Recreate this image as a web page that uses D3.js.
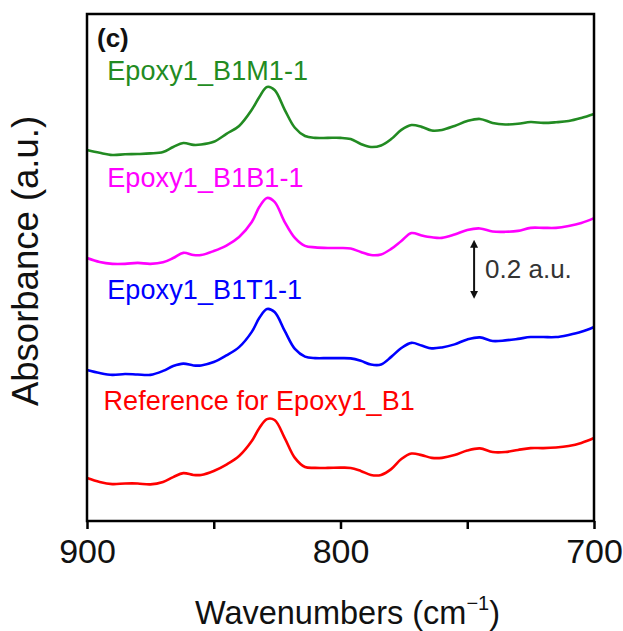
<!DOCTYPE html>
<html>
<head>
<meta charset="utf-8">
<script src="https://cdn.jsdelivr.net/npm/d3@7"></script>
<style>
body { margin: 0; background: #fff; }
text { font-family: "Liberation Sans", Arial, sans-serif; }
</style>
</head>
<body>
<script>
var width = 623, height = 631;

// wavenumbers (cm-1), shared by every spectrum
var wavenumbers = [900, 895, 890, 885, 880, 875, 870, 866, 862, 858,
  855, 850, 845, 840, 835, 832, 829, 826, 822, 818,
  814, 810, 805, 800, 796, 792, 788, 784, 780, 776,
  772, 768, 764, 760, 755, 750, 745, 740, 735, 730,
  725, 720, 715, 710, 705, 700];

// absorbance (a.u., stacked with offsets)
var b1m1 = [1.216, 1.207, 1.200, 1.202, 1.203, 1.205, 1.210, 1.226, 1.239, 1.233,
  1.234, 1.243, 1.269, 1.295, 1.348, 1.390, 1.423, 1.413, 1.348, 1.289,
  1.262, 1.256, 1.256, 1.256, 1.252, 1.236, 1.226, 1.231, 1.252, 1.282,
  1.298, 1.292, 1.280, 1.282, 1.295, 1.311, 1.318, 1.305, 1.300, 1.302,
  1.308, 1.305, 1.307, 1.311, 1.321, 1.334];
var b1b1 = [0.862, 0.849, 0.843, 0.843, 0.846, 0.843, 0.848, 0.862, 0.879, 0.872,
  0.872, 0.885, 0.903, 0.931, 0.980, 1.030, 1.059, 1.046, 0.980, 0.928,
  0.902, 0.897, 0.895, 0.895, 0.893, 0.882, 0.872, 0.874, 0.892, 0.918,
  0.944, 0.936, 0.930, 0.928, 0.939, 0.954, 0.959, 0.949, 0.948, 0.951,
  0.961, 0.961, 0.961, 0.967, 0.977, 0.993];
var b1t1 = [0.495, 0.485, 0.479, 0.482, 0.480, 0.479, 0.492, 0.508, 0.516, 0.510,
  0.510, 0.521, 0.543, 0.570, 0.620, 0.666, 0.695, 0.685, 0.623, 0.564,
  0.539, 0.534, 0.534, 0.534, 0.533, 0.525, 0.513, 0.513, 0.538, 0.567,
  0.584, 0.575, 0.566, 0.569, 0.579, 0.595, 0.602, 0.590, 0.592, 0.597,
  0.603, 0.603, 0.603, 0.610, 0.620, 0.636];
var reference = [0.141, 0.128, 0.121, 0.123, 0.123, 0.120, 0.128, 0.144, 0.157, 0.151,
  0.151, 0.164, 0.185, 0.213, 0.262, 0.305, 0.334, 0.331, 0.272, 0.207,
  0.177, 0.174, 0.174, 0.175, 0.174, 0.164, 0.151, 0.151, 0.170, 0.203,
  0.221, 0.216, 0.207, 0.207, 0.216, 0.231, 0.238, 0.226, 0.226, 0.233,
  0.239, 0.239, 0.241, 0.246, 0.256, 0.272];

var seriesNames = ["Epoxy1_B1M1-1", "Epoxy1_B1B1-1", "Epoxy1_B1T1-1", "Reference for Epoxy1_B1"];
var seriesValues = [b1m1, b1b1, b1t1, reference];
var colors = ["#228b22", "#ff00ff", "#0000ff", "#ff0000"];
// label anchor: wavenumber and absorbance of text baseline start
var labelPos = [[892, 1.446], [892, 1.095], [892, 0.728], [893.5, 0.365]];

var xTicks = [900, 850, 800, 750, 700];
var xLabels = [900, 800, 700];

var scaleBar = { wn: 747.3, from: 0.725, to: 0.925, text: "0.2 a.u." };

var margin = {left: 87, top: 14, right: 29, bottom: 110};
var w = width - margin.left - margin.right,
    h = height - margin.top - margin.bottom;

var svg = d3.select("body").append("svg")
    .attr("width", width)
    .attr("height", height);

var x = d3.scaleLinear().domain([900, 700]).range([0, w]);
var y = d3.scaleLinear().domain([0, 1.662]).range([h, 0]);

var g = svg.append("g")
    .attr("transform", "translate(" + margin.left + "," + margin.top + ")");

var line = d3.line()
    .x(function(d) { return x(d[0]); })
    .y(function(d) { return y(d[1]); })
    .curve(d3.curveCatmullRom.alpha(0.5));

seriesValues.forEach(function(vals, i) {
  g.append("path")
    .datum(wavenumbers.map(function(wn, j) { return [wn, vals[j]]; }))
    .attr("fill", "none")
    .attr("stroke", colors[i])
    .attr("stroke-width", 2.6)
    .attr("stroke-linejoin", "round")
    .attr("d", line);

  g.append("text")
    .attr("x", x(labelPos[i][0]))
    .attr("y", y(labelPos[i][1]))
    .attr("fill", colors[i])
    .attr("font-size", 27)
    .attr("letter-spacing", 0.1)
    .text(seriesNames[i]);
});

// frame
g.append("rect")
  .attr("width", w)
  .attr("height", h)
  .attr("fill", "none")
  .attr("stroke", "#000")
  .attr("stroke-width", 2.5);

var xAxis = g.append("g")
  .attr("transform", "translate(0," + h + ")")
  .call(d3.axisBottom(x).tickValues(xTicks).tickSize(8).tickPadding(10)
    .tickFormat(function(d) { return xLabels.indexOf(d) >= 0 ? d : ""; }));
xAxis.select(".domain").remove();
xAxis.selectAll(".tick line").attr("stroke-width", 2.5);
xAxis.selectAll(".tick text")
  .attr("font-size", 34)
  .attr("font-family", "Liberation Sans, Arial, sans-serif")
  .attr("fill", "#111");

// panel tag
g.append("text")
  .attr("x", 10)
  .attr("y", 33)
  .attr("font-size", 26)
  .attr("font-weight", "bold")
  .attr("fill", "#111")
  .text("(c)");

// scale bar
var defs = svg.append("defs");
defs.append("marker")
  .attr("id", "ah")
  .attr("viewBox", "0 0 10 10")
  .attr("refX", 5).attr("refY", 5)
  .attr("markerWidth", 4).attr("markerHeight", 5)
  .attr("orient", "auto-start-reverse")
  .append("path")
  .attr("d", "M0,0L10,5L0,10Z")
  .attr("fill", "#111");

g.append("line")
  .attr("x1", x(scaleBar.wn)).attr("x2", x(scaleBar.wn))
  .attr("y1", y(scaleBar.from) - 5).attr("y2", y(scaleBar.to) + 5)
  .attr("stroke", "#111")
  .attr("stroke-width", 2)
  .attr("marker-start", "url(#ah)")
  .attr("marker-end", "url(#ah)");

g.append("text")
  .attr("x", x(scaleBar.wn) + 11)
  .attr("y", y((scaleBar.from + scaleBar.to) / 2) + 9)
  .attr("font-size", 26)
  .attr("fill", "#333")
  .text(scaleBar.text);

// axis titles
var xt = svg.append("text")
  .attr("x", margin.left + w / 2 + 7)
  .attr("y", 624)
  .attr("text-anchor", "middle")
  .attr("font-size", 32.5)
  .attr("fill", "#111");
xt.append("tspan").text("Wavenumbers (cm");
xt.append("tspan").attr("font-size", 20).attr("dy", -14).text("\u22121");
xt.append("tspan").attr("dy", 14).text(")");

svg.append("text")
  .attr("transform", "translate(38," + 261 + ") rotate(-90)")
  .attr("text-anchor", "middle")
  .attr("font-size", 36.5)
  .attr("fill", "#111")
  .text("Absorbance (a.u.)");
</script>
</body>
</html>
